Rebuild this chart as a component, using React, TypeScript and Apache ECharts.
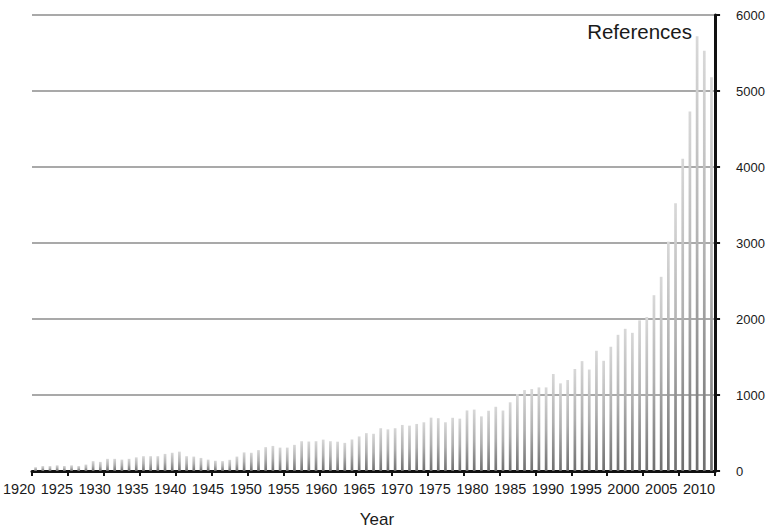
import React, { useEffect, useRef } from "react";
import * as echarts from "echarts";

const startYear = 1920;
const references = [
  50, 65, 65, 75, 65, 75, 65, 85, 130, 120,
  160, 160, 150, 160, 180, 195, 195, 195, 225, 240,
  255, 195, 190, 172, 150, 135, 130, 147, 190, 245,
  240, 275, 314, 330, 308, 308, 344, 392, 388, 392,
  413, 392, 386, 370, 415, 455, 498, 490, 563, 548,
  563, 606, 597, 619, 641, 702, 695, 641, 700, 689,
  797, 808, 719, 793, 845, 796, 904, 1013, 1065, 1078,
  1100, 1100, 1276, 1153, 1197, 1342, 1446, 1335, 1582, 1450,
  1635, 1792, 1871, 1818, 1982, 2026, 2313, 2555, 3018, 3524,
  4110, 4730, 5720, 5530, 5180,
];
const years = references.map((_, i) => String(startYear + i));
const xTickLabels = [
  "1920", "1925", "1930", "1935", "1940", "1945", "1950", "1955", "1960", "1965",
  "1970", "1975", "1980", "1985", "1990", "1995", "2000", "2005", "2010",
];
const yMax = 6000;
const yStep = 1000;

export default function App() {
  const ref = useRef<HTMLDivElement>(null);
  useEffect(() => {
    if (!ref.current) return;
    const chart = echarts.init(ref.current, null, { renderer: "svg" });
    chart.setOption({
      animation: false,
      backgroundColor: "#ffffff",
      grid: [
        { left: 32, right: 47, top: 15, bottom: 56 },
        { left: 15, right: 69, top: 15, bottom: 56 },
      ],
      xAxis: [
        {
          type: "category",
          gridIndex: 0,
          data: years,
          boundaryGap: true,
          axisLine: { show: true, lineStyle: { color: "#111", width: 3 } },
          axisTick: {
            show: true,
            interval: 4,
            length: 5,
            lineStyle: { color: "#111", width: 2 },
          },
          axisLabel: { show: false },
          splitLine: { show: false },
        },
        {
          type: "category",
          gridIndex: 1,
          data: xTickLabels,
          boundaryGap: false,
          axisLine: { show: false },
          axisTick: { show: false },
          axisLabel: {
            show: true,
            interval: 0,
            margin: 10,
            color: "#1a1a1a",
            fontSize: 14.5,
            fontFamily: "'Liberation Sans', Arial, sans-serif",
          },
          splitLine: { show: false },
        },
      ],
      yAxis: [
        {
          type: "value",
          gridIndex: 0,
          position: "right",
          min: 0,
          max: yMax,
          interval: yStep,
          axisLine: { show: true, lineStyle: { color: "#111", width: 3 } },
          axisTick: { show: true, length: 5, lineStyle: { color: "#111", width: 2 } },
          axisLabel: {
            margin: 21,
            color: "#1a1a1a",
            fontSize: 13,
            fontFamily: "'Liberation Sans', Arial, sans-serif",
            formatter: (v: number) => String(v),
          },
          splitLine: { show: true, lineStyle: { color: "#a9a9a9", width: 2 } },
        },
        {
          type: "value",
          gridIndex: 1,
          show: false,
          min: 0,
          max: yMax,
        },
      ],
      series: [
        {
          type: "bar",
          xAxisIndex: 0,
          yAxisIndex: 0,
          data: references,
          barWidth: 2.7,
          itemStyle: {
            color: new echarts.graphic.LinearGradient(0, 0, 0, 1, [
              { offset: 0, color: "#d8d8d8" },
              { offset: 0.5, color: "#b0b0b0" },
              { offset: 1, color: "#6e6e6e" },
            ]),
          },
        },
        {
          type: "scatter",
          xAxisIndex: 1,
          yAxisIndex: 1,
          data: [],
        },
      ],
      graphic: [
        {
          type: "text",
          x: 692,
          y: 31,
          style: {
            text: "References",
            align: "right",
            verticalAlign: "middle",
            fill: "#1a1a1a",
            font: "20.5px 'Liberation Sans', Arial, sans-serif",
          },
        },
        {
          type: "text",
          x: 377,
          y: 519,
          style: {
            text: "Year",
            align: "center",
            verticalAlign: "middle",
            fill: "#1a1a1a",
            font: "17px 'Liberation Sans', Arial, sans-serif",
          },
        },
      ],
    });
    return () => chart.dispose();
  }, []);
  return (
    <div
      ref={ref}
      style={{ position: "fixed", left: 0, top: 0, width: 768, height: 527 }}
    />
  );
}
